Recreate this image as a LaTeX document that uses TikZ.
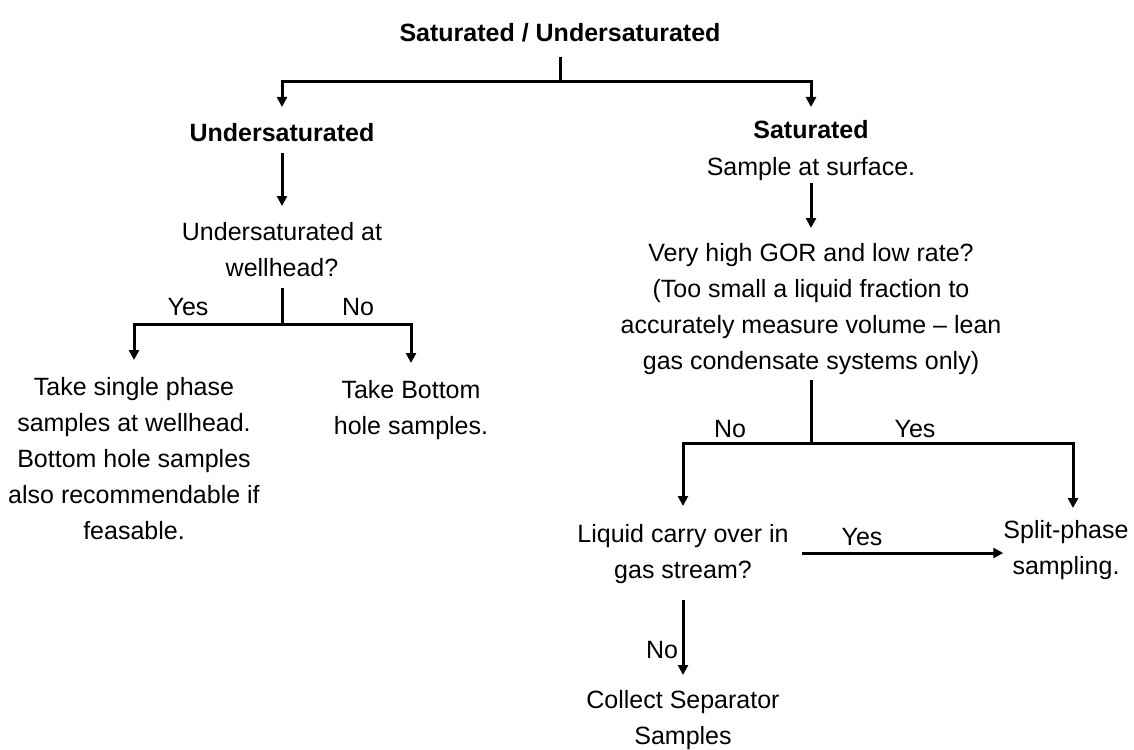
\documentclass[tikz,border=0pt]{standalone}
\usepackage{fontspec}
\setmainfont{Liberation Sans}
\usetikzlibrary{arrows.meta}
\begin{document}
\begin{tikzpicture}[x=1pt,y=-1pt,
  txt/.style={font=\fontsize{25}{36}\selectfont, align=center, inner sep=0pt, anchor=base},
  btxt/.style={txt, font=\fontsize{25}{36}\selectfont\bfseries},
  conn/.style={line width=3pt, line join=miter},
  arr/.style={conn, -{Triangle[length=10pt,width=10pt]}},
]
\fill[white] (0,0) rectangle (1134,749);
\useasboundingbox (0,0) rectangle (1134,749);

% text nodes (base = baseline of the last line)
\node[btxt] (root) at (560,42) {Saturated / Undersaturated};
\node[btxt] (under) at (282,142) {Undersaturated};
\node[txt] (sat) at (811,175) {{\bfseries Saturated}\\Sample at surface.};
\node[txt] (uw) at (282,276) {Undersaturated at\\wellhead?};
\node[txt] (single) at (134,539) {Take single phase\\samples at wellhead.\\Bottom hole samples\\also recommendable if\\feasable.};
\node[txt] (bottom) at (411,434) {Take Bottom\\hole samples.};
\node[txt] (gor) at (811,369) {Very high GOR and low rate?\\(Too small a liquid fraction to\\accurately measure volume – lean\\gas condensate systems only)};
\node[txt] (liquid) at (683,578) {Liquid carry over in\\gas stream?};
\node[txt] (split) at (1066,574) {Split-phase\\sampling.};
\node[txt] (collect) at (683,744) {Collect Separator\\Samples};

% branch labels
\node[txt] (l1) at (188,315) {Yes};
\node[txt] (l2) at (358,315) {No};
\node[txt] (l3) at (730,437) {No};
\node[txt] (l4) at (915,437) {Yes};
\node[txt] (l5) at (862,545) {Yes};
\node[txt] (l6) at (662,658) {No};

% junctions
\coordinate (j0) at (560,82);
\coordinate (j1) at (282,324);
\coordinate (j2) at (811,443);

% connectors
\draw[conn] ([yshift=-15pt]root.base) -- (j0);
\draw[arr] (j0) -| ([yshift=35pt]under.base);
\draw[arr] (j0) -| ([yshift=68pt]sat.base);

\draw[arr] ([yshift=-11pt]under.base) -- ([yshift=70pt]uw.base);
\draw[conn] ([yshift=-12pt]uw.base) -- (j1);
\draw[arr] (j1) -| ([yshift=179pt]single.base);
\draw[arr] (j1) -| ([yshift=71pt]bottom.base);

\draw[arr] ([yshift=-8pt]sat.base) -- ([yshift=141pt]gor.base);
\draw[conn] ([yshift=-11pt]gor.base) -- (j2);
\draw[arr] (j2) -| ([yshift=72pt]liquid.base);
\draw[arr] (j2) -| ([xshift=7pt,yshift=66pt]split.base);

\coordinate (ys) at ([xshift=119pt,yshift=25pt]liquid.base);
\draw[arr] (ys) -- (ys -| split.west);
\draw[arr] ([yshift=-22pt]liquid.base) -- ([yshift=69pt]collect.base);
\end{tikzpicture}
\end{document}
